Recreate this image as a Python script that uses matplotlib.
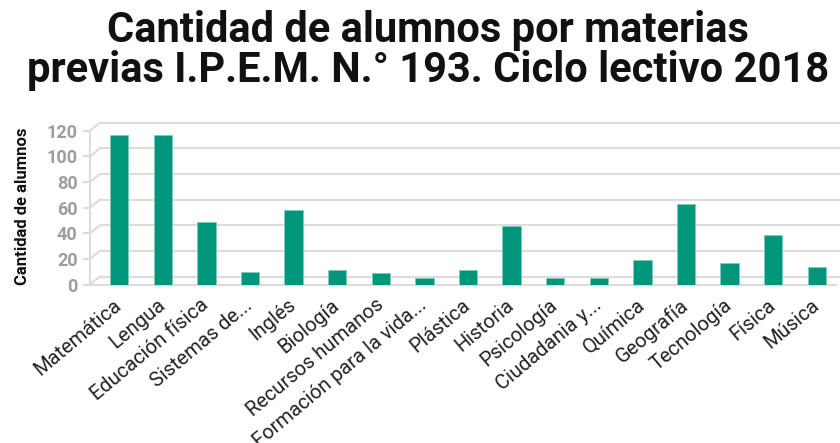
import matplotlib.pyplot as plt

materias = ['Matemática', 'Lengua', 'Educación física', 'Sistemas de...', 'Inglés',
            'Biología', 'Recursos humanos', 'Formación para la vida...', 'Plástica',
            'Historia', 'Psicología', 'Ciudadania y...', 'Química', 'Geografía',
            'Tecnología', 'Física', 'Música']
alumnos = [117, 117, 49, 10, 58, 11, 9, 5, 11, 46, 5, 5, 19, 63, 17, 39, 14]
yticks = [0, 20, 40, 60, 80, 100, 120]

plt.rcParams['font.family'] = ['Roboto', 'DejaVu Sans']

W, H = 840, 443
fig = plt.figure(figsize=(W / 100, H / 100), dpi=100)

# axes box in pixels (front plane)
left, right, bottom, top = 90, 836, 284.5, 130.7
ax = fig.add_axes([left / W, (H - bottom) / H, (right - left) / W, (bottom - top) / H])

xmin, xmax = -0.67, 16.44
ymin, ymax = 0, 120
ax.set_xlim(xmin, xmax)
ax.set_ylim(ymin, ymax)

# depth offset of the back wall, converted to data units
px_x = (right - left) / (xmax - xmin)
px_y = (bottom - top) / (ymax - ymin)
dx = 10 / px_x
dy = 8 / px_y

grid_col = '#dcdcdc'
for v in yticks:
    # back wall gridline
    ax.plot([xmin + dx, xmax + dx + 1], [v + dy, v + dy], color=grid_col, lw=1.5,
            clip_on=False, zorder=1)
    # diagonal from front axis to back wall
    ax.plot([xmin, xmin + dx], [v, v + dy], color=grid_col, lw=1.5, clip_on=False, zorder=1)

# front floor line
ax.plot([xmin, xmax], [0, 0], color=grid_col, lw=1.5, clip_on=False, zorder=1)

x = list(range(len(materias)))
ax.bar(x, alumnos, width=0.42, color='#00967b', edgecolor='#7fcbbb', linewidth=0.6, zorder=3)

for s in ['top', 'right', 'bottom']:
    ax.spines[s].set_visible(False)
ax.spines['left'].set_color(grid_col)
ax.spines['left'].set_linewidth(1.5)

ax.set_yticks(yticks)
ax.set_yticklabels([str(v) for v in yticks], fontsize=13, fontweight='bold', color='#9a9f9e')
ax.tick_params(axis='y', length=5, width=1.5, color=grid_col, pad=4)

ax.set_xticks(x)
ax.set_xticklabels(materias, rotation=40, ha='right', va='center', rotation_mode='anchor',
                   fontsize=14.5, color='#222222')
ax.tick_params(axis='x', length=0, pad=13)

fig.text(23 / W, 1 - 206 / H, 'Cantidad de alumnos', rotation=90, ha='center', va='center',
         fontsize=12, fontweight='bold', color='#111111')

fig.text(428 / W, 1 - 42 / H, 'Cantidad de alumnos por materias', ha='center', va='baseline',
         fontsize=30, fontweight='bold', color='#111111')
fig.text(428 / W, 1 - 82 / H, 'previas I.P.E.M. N.° 193. Ciclo lectivo 2018', ha='center',
         va='baseline', fontsize=30, fontweight='bold', color='#111111')

fig.savefig('out.png', dpi=100)
